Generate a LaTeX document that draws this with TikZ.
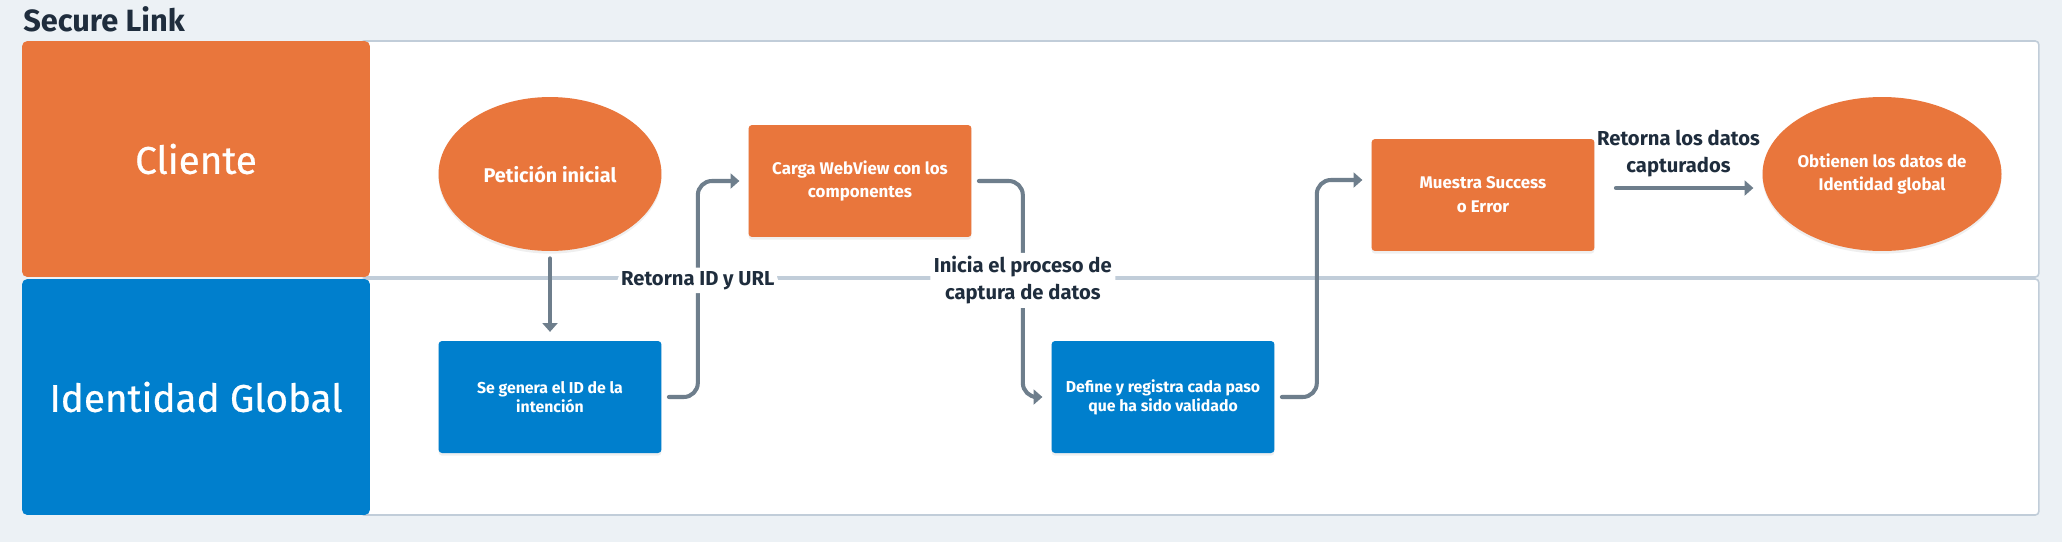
\documentclass[tikz,border=0pt]{standalone}
\usepackage{fontspec}
\setmainfont{Fira Sans}
\newfontfamily\lanefont{Fira Sans}[FakeBold=0.6]
\usepackage{xcolor}
\usepackage{tikz}
\usetikzlibrary{shapes.geometric,arrows.meta,positioning,shadows}

\definecolor{slorange}{RGB}{233,118,60}
\definecolor{slblue}{RGB}{0,127,205}
\definecolor{slarrow}{RGB}{110,126,140}
\definecolor{sltext}{RGB}{31,45,61}
\definecolor{slbg}{RGB}{236,241,245}
\definecolor{slline}{RGB}{193,205,217}

\begin{document}
\begin{tikzpicture}[
  x=0.02cm, y=-0.02cm,
  lane/.style     = {rectangle, draw=slline, line width=0.9pt, fill=white,
                     rounded corners=2pt, minimum width=33.58cm, minimum height=4.72cm},
  hdr/.style      = {rectangle, rounded corners=3pt, text=white,
                     minimum width=6.96cm, minimum height=4.72cm,
                     font=\lanefont\fontsize{22}{26}\selectfont},
  obox/.style     = {rectangle, rounded corners=2pt, fill=slorange, text=white,
                     minimum width=4.46cm, minimum height=2.24cm, align=center,
                     font=\bfseries\fontsize{9.6}{13.6}\selectfont,
                     drop shadow={opacity=0.12, shadow xshift=0pt, shadow yshift=-1.5pt}},
  bbox/.style     = {obox, fill=slblue, font=\bfseries\fontsize{9}{10.8}\selectfont},
  terminal/.style = {ellipse, fill=slorange, text=white, inner sep=0pt,
                     minimum width=4.46cm, minimum height=3.08cm, align=center,
                     font=\bfseries\fontsize{9.6}{13.6}\selectfont,
                     drop shadow={opacity=0.12, shadow xshift=0pt, shadow yshift=-1.5pt}},
  elabel/.style   = {text=sltext, align=center, inner sep=2pt,
                     font=\bfseries\fontsize{11.5}{15.3}\selectfont},
  arr/.style      = {draw=slarrow, line width=2.3pt, line cap=round,
                     -{Triangle[length=5pt,width=8.5pt]}, rounded corners=8pt,
                     shorten <=4pt, shorten >=5pt}
]
\path[use as bounding box, fill=slbg] (0,0) rectangle (2062,542);

% swimlanes
\node[lane] (laneCli) at (1199.5,159) {};
\node[lane] (laneIG)  at (1199.5,397) {};
\node[hdr, fill=slorange] (hdrCli) at (196,159) {Cliente};
\node[hdr, fill=slblue]   (hdrIG)  at (196,397) {Identidad Global};
\node[anchor=base west, inner sep=0pt, text=sltext,
      font=\bfseries\fontsize{17.5}{20}\selectfont] (title) at (23,31) {Secure Link};

% steps
\node[terminal, font=\bfseries\fontsize{11.3}{13.6}\selectfont] (peticion) at (550,174) {Petición inicial};
\node[obox]     (carga)    at (860,181)  {Carga WebView con los\\componentes};
\node[bbox]     (genera)   at (550,397)  {Se genera el ID de la\\intención};
\node[bbox]     (define)   at (1163,397) {Define y registra cada paso\\que ha sido validado};
\node[obox]     (muestra)  at (1483,195) {Muestra Success\\o Error};
\node[terminal] (obtienen) at (1882,174) {Obtienen los datos de\\Identidad global};

% flow
\draw[arr] (peticion) -- (genera);
\draw[arr] (genera.east) -- ++(36,0) |- node[elabel, fill=white, pos=0.27] {Retorna ID y URL} (carga.west);
\draw[arr] (carga.east) -- ++(51,0) |- node[elabel, fill=white, pos=0.23] {Inicia el proceso de\\captura de datos} (define.west);
\draw[arr] (define.east) -- ++(42,0) |- ([yshift=0.3cm]muestra.west);
\draw[arr, shorten <=12pt] ([yshift=0.14cm]muestra.east)
  -- node[elabel, above=3pt] {Retorna los datos\\capturados} ([yshift=0.14cm]muestra.east -| obtienen.west);
\end{tikzpicture}
\end{document}
